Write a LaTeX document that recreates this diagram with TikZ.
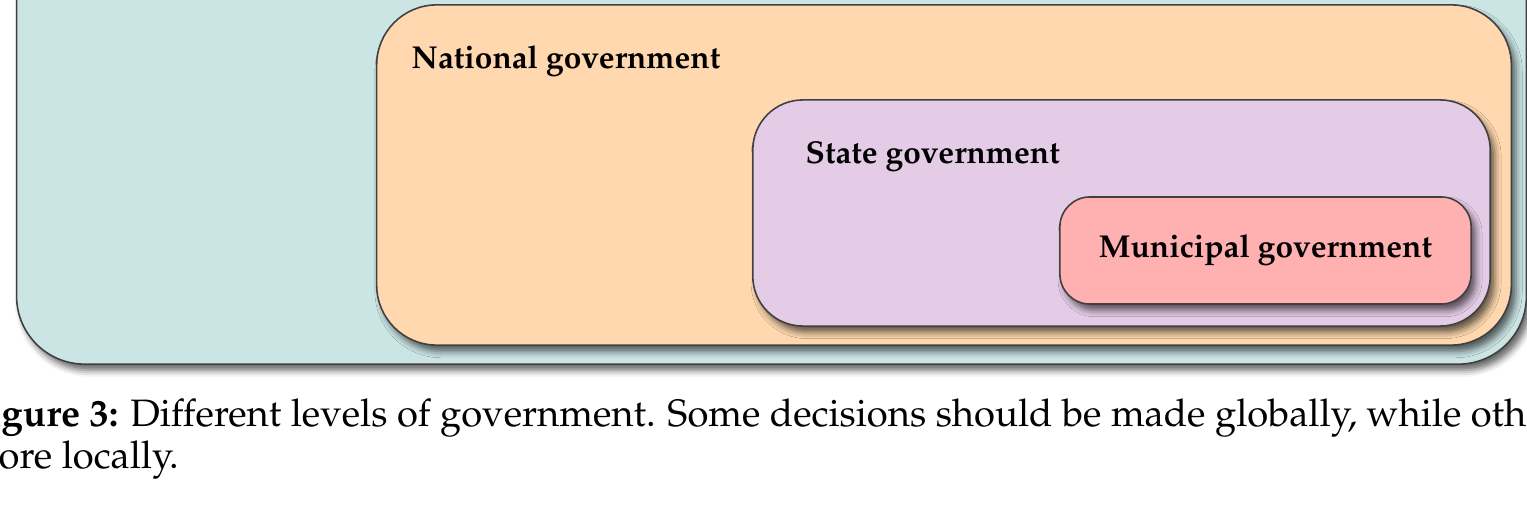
\documentclass[tikz,border=0pt]{standalone}
\usepackage[T1]{fontenc}
\usepackage{mathpazo}
\usepackage{xcolor}
\usetikzlibrary{positioning, shadows.blur}

\definecolor{globfill}{RGB}{203,228,228}
\definecolor{natfill}{RGB}{255,216,176}
\definecolor{statefill}{RGB}{229,204,230}
\definecolor{munifill}{RGB}{255,176,176}

\begin{document}
\begin{tikzpicture}[x=0.01cm, y=-0.01cm,
  level/.style={rectangle, draw=black!75, line width=0.45pt, inner sep=0pt,
                blur shadow={shadow xshift=1.3pt, shadow yshift=-1.8pt,
                             shadow blur radius=1.8pt, shadow opacity=60}},
  lbl/.style={font=\fontsize{9.0}{11}\selectfont\bfseries, inner sep=0pt},
  captext/.style={font=\fontsize{10.86}{13}\selectfont, inner sep=0pt, anchor=base west}
]
  \useasboundingbox (0,0) rectangle (1527,509);
  \clip (0,0) rectangle (1527,509);

  % nested levels, outermost first
  \node[level, fill=globfill, rounded corners=0.68cm,
        minimum width=15.09cm, minimum height=4.64cm] (glob) at (771.5,132) {};
  \node[level, fill=natfill, rounded corners=0.6cm,
        minimum width=11.34cm, minimum height=3.4cm] (nat) at (944,175) {};
  \node[level, fill=statefill, rounded corners=0.5cm,
        minimum width=7.37cm, minimum height=2.26cm] (state) at (1121.5,213) {};
  \node[level, lbl, fill=munifill, rounded corners=0.3cm,
        minimum width=4.11cm, minimum height=1.07cm] (muni) at (1265.5,250.5)
        {Municipal government};

  \node[lbl, anchor=base west] (natlbl) at (411,68) {National government};
  \node[lbl, anchor=base west] (statelbl) at (805,163) {State government};

  % caption
  \node[captext] (capA) at (1,426) {\llap{\textbf{Fi}}\textbf{gure 3:} Different levels
        of government. Some decisions should be made globally, while others};
  \node[captext] (capB) at (-2,468) {\llap{m}ore locally.};
\end{tikzpicture}
\end{document}
